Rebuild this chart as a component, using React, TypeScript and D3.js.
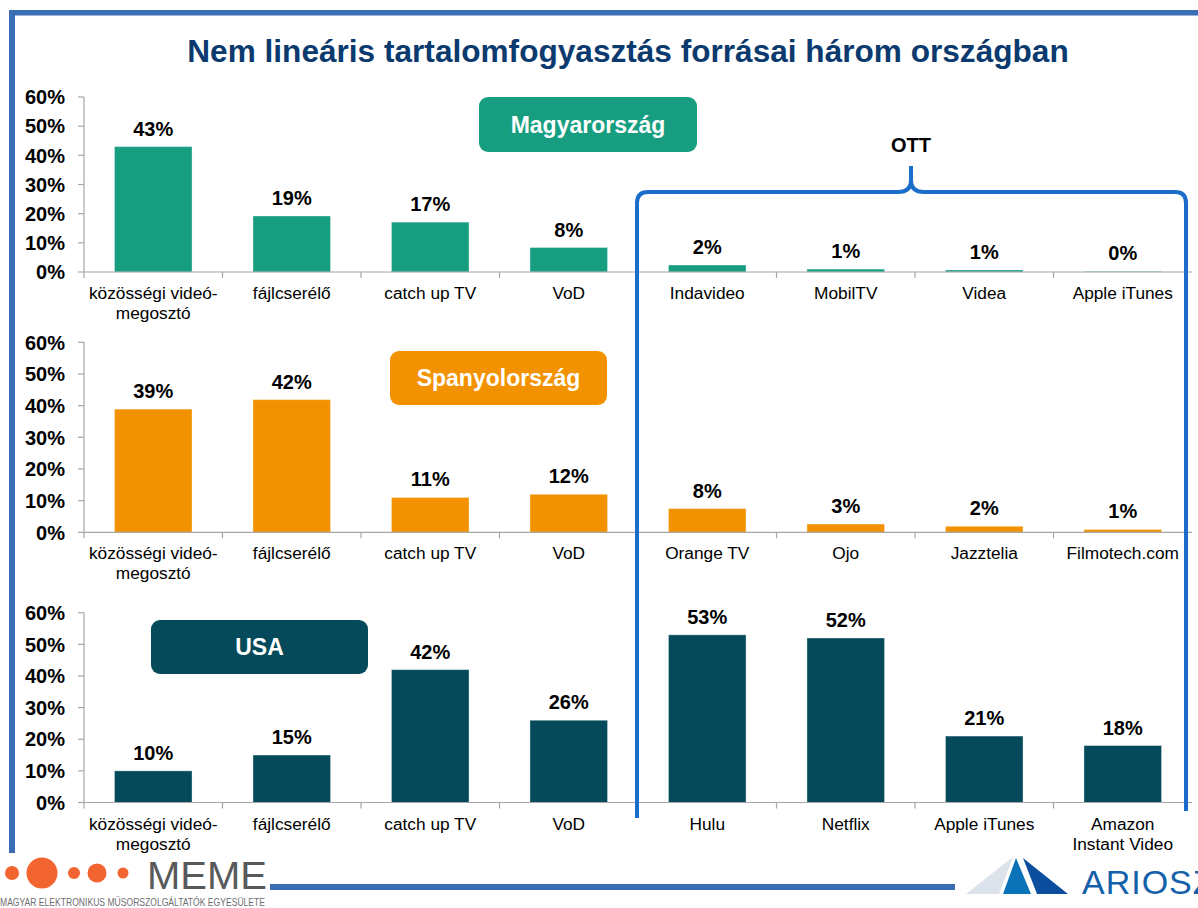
import React from "react";
import * as d3 from "d3";

const title = "Nem lineáris tartalomfogyasztás forrásai három országban";
const yTicks = [0, 10, 20, 30, 40, 50, 60];

const commonCats = ["közösségi videó-\nmegosztó", "fájlcserélő", "catch up TV", "VoD"];

const categoriesHU = [...commonCats, "Indavideo", "MobilTV", "Videa", "Apple iTunes"];
const valuesHU = [43, 19.2, 17.1, 8.4, 2.4, 1.0, 0.7, 0.2];

const categoriesES = [...commonCats, "Orange TV", "Ojo", "Jazztelia", "Filmotech.com"];
const valuesES = [38.9, 41.9, 11, 12, 7.5, 2.6, 1.9, 0.9];

const categoriesUS = [...commonCats, "Hulu", "Netflix", "Apple iTunes", "Amazon\nInstant Video"];
const valuesUS = [10, 15, 42, 26, 53, 52, 21, 18];

const countryNames = ["Magyarország", "Spanyolország", "USA"];

const FONT = "'Liberation Sans', Arial, Helvetica, sans-serif";

const panels = [
  { name: countryNames[0], cats: categoriesHU, vals: valuesHU, color: "#179E81", top: 97, bottom: 272, box: { x: 479, y: 97, w: 218, h: 55 } },
  { name: countryNames[1], cats: categoriesES, vals: valuesES, color: "#F39200", top: 342.3, bottom: 532.3, box: { x: 390, y: 351, w: 217, h: 54 } },
  { name: countryNames[2], cats: categoriesUS, vals: valuesUS, color: "#044A5A", top: 612.7, bottom: 802.5, box: { x: 151, y: 620, w: 217, h: 54 } },
];

const X0 = 84;
const X1 = 1192;
const AXIS = "#A6A6A6";

function Panel({ p }: { p: any }) {
  const x = d3.scaleBand<number>().domain(d3.range(p.cats.length)).range([X0, X1]).paddingInner(0.44).paddingOuter(0.22);
  const y = d3.scaleLinear().domain([0, 60]).range([p.bottom, p.top]);
  const step = x.step();
  return (
    <g>
      <line x1={X0} x2={X0} y1={y(60)} y2={y(0)} stroke={AXIS} strokeWidth={1.2} />
      {yTicks.map((t) => (
        <g key={t}>
          <line x1={X0 - 6} x2={X0} y1={y(t)} y2={y(t)} stroke={AXIS} strokeWidth={1.2} />
          <text x={65} y={y(t)} dy="0.36em" textAnchor="end" fontFamily={FONT} fontWeight="bold" fontSize={20} fill="#000">
            {t + "%"}
          </text>
        </g>
      ))}
      {p.vals.map((v: number, i: number) => (
        <g key={i}>
          <rect x={x(i)} y={y(v)} width={x.bandwidth()} height={y(0) - y(v)} fill={p.color} stroke="#ffffff" strokeOpacity={0.35} strokeWidth={1} />
          <text x={(x(i) as number) + x.bandwidth() / 2} y={y(v) - 11} textAnchor="middle" fontFamily={FONT} fontWeight="bold" fontSize={20} fill="#000">
            {d3.format(".0f")(v) + "%"}
          </text>
        </g>
      ))}
      <line x1={X0} x2={X1} y1={y(0)} y2={y(0)} stroke={AXIS} strokeWidth={1.2} />
      {d3.range(p.cats.length).map((i) => (
        <line key={i} x1={X0 + step * i} x2={X0 + step * i} y1={y(0)} y2={y(0) + 6} stroke={AXIS} strokeWidth={1.2} />
      ))}
      {p.cats.map((c: string, i: number) => (
        <text key={c + i} x={(x(i) as number) + x.bandwidth() / 2} y={y(0) + 27} textAnchor="middle" fontFamily={FONT} fontSize={17.3} fill="#000">
          {c.split("\n").map((line, k) => (
            <tspan key={k} x={(x(i) as number) + x.bandwidth() / 2} dy={k === 0 ? 0 : 20}>
              {line}
            </tspan>
          ))}
        </text>
      ))}
      <rect x={p.box.x} y={p.box.y} width={p.box.w} height={p.box.h} rx={9} ry={9} fill={p.color} />
      <text x={p.box.x + p.box.w / 2} y={p.box.y + p.box.h / 2} dy="0.36em" textAnchor="middle" fontFamily={FONT} fontWeight="bold" fontSize={23} fill="#fff">
        {p.name}
      </text>
    </g>
  );
}

export default function App() {
  const frame = "#3A6DB3";
  const bracket = "#1A6DC8";
  return (
    <svg width={1198} height={908} style={{ position: "absolute", left: 0, top: 0, background: "#fff" }}>
      <rect x={0} y={0} width={1198} height={908} fill="#fff" />
      <rect x={9} y={10} width={1189} height={5.5} fill={frame} />
      <rect x={9} y={10} width={6} height={843} fill={frame} />
      <text x={628} y={62} textAnchor="middle" fontFamily={FONT} fontWeight="bold" fontSize={31.6} fill="#0B3A6F">
        {title}
      </text>
      {panels.map((p, i) => (
        <Panel key={i} p={p} />
      ))}
      <path
        d="M637,818 V203 Q637,192 648,192 H898 Q911,192 911,180 V166 M911,166 V180 Q911,192 924,192 H1175 Q1186,192 1186,203 V811"
        fill="none"
        stroke={bracket}
        strokeWidth={4}
        strokeLinejoin="round"
      />
      <text x={911} y={152} textAnchor="middle" fontFamily={FONT} fontWeight="bold" fontSize={20} fill="#000">
        OTT
      </text>
      <rect x={270} y={884} width={685} height={6} fill={frame} />
      <g fill="#F26430">
        <circle cx={12} cy={873} r={7} />
        <circle cx={42} cy={873} r={15.5} />
        <circle cx={74} cy={873} r={6} />
        <circle cx={97} cy={873} r={9.5} />
        <circle cx={123} cy={873} r={5.5} />
      </g>
      <text x={147} y={889} fontFamily={FONT} fontSize={38} fill="#58595B" textLength={120} lengthAdjust="spacingAndGlyphs">
        MEME
      </text>
      <text x={0} y={906} fontFamily={FONT} fontSize={10} fill="#6D6E70" textLength={265} lengthAdjust="spacingAndGlyphs">
        MAGYAR ELEKTRONIKUS MŰSORSZOLGÁLTATÓK EGYESÜLETE
      </text>
      <polygon points="966,894 1013,857 999,894" fill="#DCE3EA" />
      <polygon points="1003,894 1016,858 1031,894" fill="#0A73B8" />
      <polygon points="1023,858 1068,894 1037,894" fill="#0C4E9E" />
      <text x={1082} y={894} fontFamily={FONT} fontSize={34} fill="#1560AA" letterSpacing={1}>
        ARIOSZ
      </text>
    </svg>
  );
}
